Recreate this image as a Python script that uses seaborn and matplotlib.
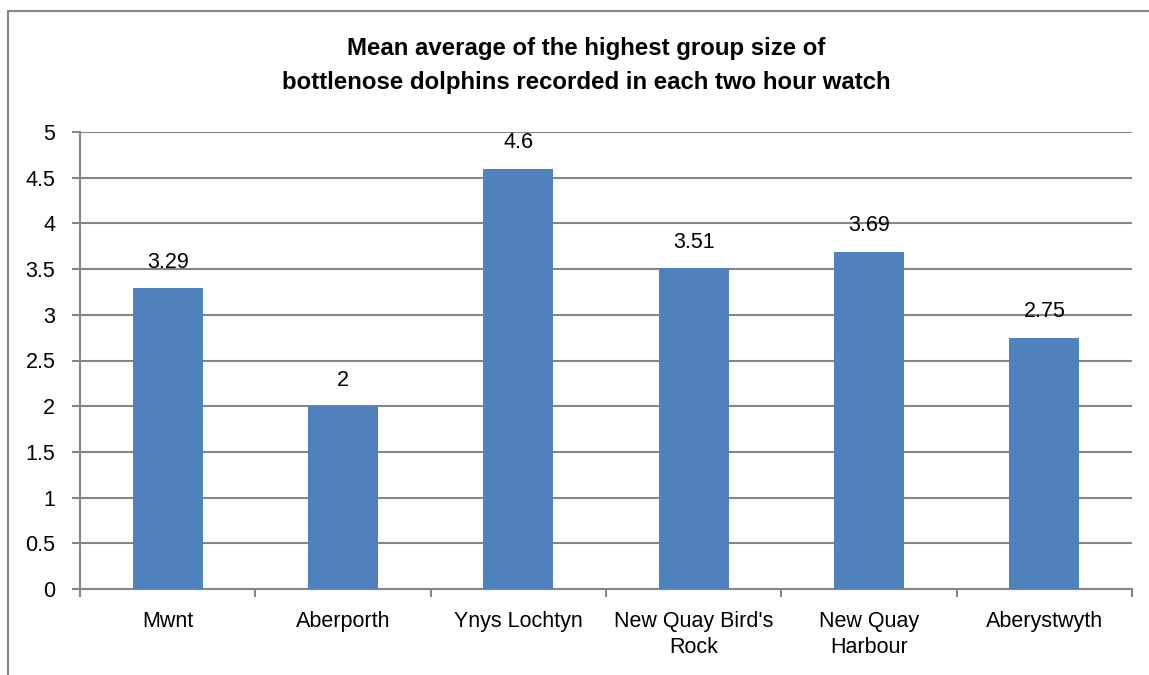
import matplotlib
matplotlib.use('Agg')
import pandas as pd
import matplotlib.pyplot as plt
import seaborn as sns
import numpy as np
from matplotlib.patches import Rectangle

sites = ['Mwnt', 'Aberporth', 'Ynys Lochtyn', "New Quay Bird's\nRock", 'New Quay\nHarbour', 'Aberystwyth']
group_size = [3.29, 2, 4.6, 3.51, 3.69, 2.75]
value_labels = ['3.29', '2', '4.6', '3.51', '3.69', '2.75']

if __name__ == "__main__":
    sns.set_style('white')
    plt.rcParams['font.family'] = ['Liberation Sans', 'DejaVu Sans']
    plt.rcParams['text.color'] = 'black'
    plt.rcParams['xtick.color'] = 'black'
    plt.rcParams['ytick.color'] = 'black'
    df = pd.DataFrame({'site': sites, 'size': group_size})

    fig = plt.figure(figsize=(11.49, 6.75), dpi=100)
    ax = fig.add_axes([80 / 1149, 1 - 589 / 675, (1132 - 80) / 1149, (589 - 132) / 675])
    sns.barplot(data=df, x='site', y='size', color='#4F81BD', saturation=1, width=0.4,
                linewidth=0, ax=ax, zorder=3)

    grid_c = '#868686'
    ax.set_ylim(0, 5)
    ax.set_xlim(-0.5, len(sites) - 0.5)
    ax.set_yticks(np.arange(0, 5.01, 0.5))
    ax.set_yticklabels(['0', '0.5', '1', '1.5', '2', '2.5', '3', '3.5', '4', '4.5', '5'])
    ax.yaxis.grid(True, color=grid_c, lw=1.5, zorder=0)
    ax.set_axisbelow(True)
    ax.set_xlabel('')
    ax.set_ylabel('')
    for s in ['top', 'right']:
        ax.spines[s].set_visible(False)
    for s in ['left', 'bottom']:
        ax.spines[s].set_color(grid_c)
        ax.spines[s].set_linewidth(1.5)
    ax.tick_params(axis='y', length=5.8, width=1.5, color=grid_c, labelcolor='black', labelsize=15.5, pad=12, left=True)
    # x ticks at category boundaries
    ax.set_xticks(np.arange(len(sites)), labels=sites)
    for lbl in ax.get_xticklabels():
        lbl.set_linespacing(1.3)
    ax.tick_params(axis='x', length=0, labelcolor='black', labelsize=15.5, pad=16)
    ax.set_xticks(np.arange(-0.5, len(sites), 1), minor=True)
    ax.tick_params(axis='x', which='minor', length=5.8, width=1.5, color=grid_c, bottom=True)

    for i, v in enumerate(group_size):
        ax.text(i, v + 0.17, value_labels[i], ha='center', va='bottom', fontsize=15.5, color='black')

    fig.text(0.51, 1 - 48 / 675, 'Mean average of the highest group size of', ha='center', va='center',
             fontsize=17.3, fontweight='bold', color='black')
    fig.text(0.51, 1 - 83 / 675, 'bottlenose dolphins recorded in each two hour watch', ha='center', va='center',
             fontsize=17.3, fontweight='bold', color='black')

    fig.add_artist(Rectangle((8 / 1149, -0.1), 1.2, 1.1 - 11 / 675, transform=fig.transFigure,
                             fill=False, edgecolor=grid_c, lw=1.5))

    fig.savefig('out.png', dpi=100)
